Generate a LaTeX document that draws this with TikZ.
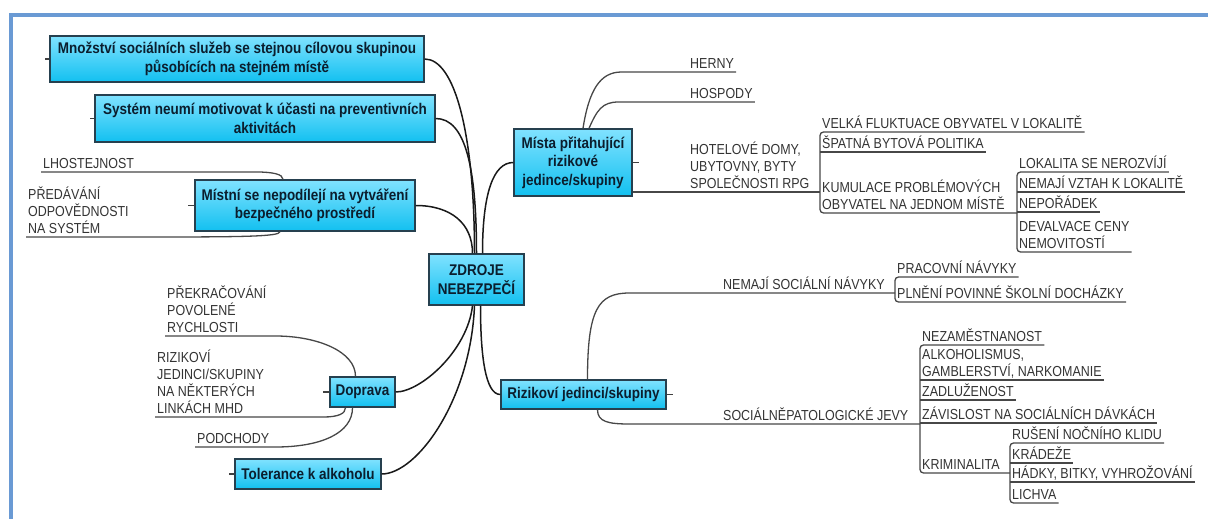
\documentclass[tikz,border=0pt]{standalone}
\usepackage{fontspec}
\setmainfont{Liberation Sans}
\newfontfamily\leaffont[FakeStretch=0.86]{Liberation Sans}
\newfontfamily\topicfont[FakeStretch=0.87]{Liberation Sans}
\definecolor{frameblue}{HTML}{6A9AD4}
\definecolor{topictop}{HTML}{80E2FF}
\definecolor{topicbot}{HTML}{12C0F0}
\definecolor{topicline}{HTML}{26404F}
\definecolor{topictext}{HTML}{0B1E2E}
\definecolor{leaftext}{HTML}{333333}
\begin{document}
\begin{tikzpicture}[
                        x=1pt, y=-1pt,
                        topic/.style={rectangle, draw=topicline, line width=1.4pt, top color=topictop, bottom color=topicbot,
                            text=topictext, font=\topicfont\bfseries\fontsize{15.5}{18.5}\selectfont, align=center, inner sep=0pt},
                        leaf/.style={anchor=south west, inner xsep=2pt, inner ysep=1pt, text depth=2.5pt, text=leaftext,
                            font=\leaffont\fontsize{14.5}{17}\selectfont, align=left},
                        branch/.style={draw=black!90, line width=1.5pt},
                        uline/.style={draw=black!72, line width=1.3pt, rounded corners=3.5pt},
                        stub/.style={draw=black!75, line width=1.3pt}
                    ]
                    \useasboundingbox (0,0) rectangle (1208,519);
                    \draw[frameblue, line width=3.5pt] (11,519) -- (11,15) -- (1208,15);

                    % Blocks
                    \node [topic, minimum width=95, minimum height=51] (zdroje) at (476.5,279.5) {ZDROJE\\NEBEZPEČÍ};
                    \node [topic, minimum width=374, minimum height=46] (mnozstvi) at (237,59) {Množství sociálních služeb se stejnou cílovou skupinou\\působících na stejném místě};
                    \node [topic, minimum width=340, minimum height=47] (system) at (265,118.5) {Systém neumí motivovat k účasti na preventivních\\aktivitách};
                    \node [topic, minimum width=220, minimum height=51] (mistni) at (305,205.5) {Místní se nepodílejí na vytváření\\bezpečného prostředí};
                    \node [topic, minimum width=118, minimum height=67] (misto) at (573,162.5) {Místa přitahující\\rizikové\\jedince/skupiny};
                    \node [topic, minimum width=165, minimum height=29] (riziko) at (583.5,394.5) {Rizikoví jedinci/skupiny};
                    \node [topic, minimum width=65, minimum height=30] (doprava) at (362.5,392) {Doprava};
                    \node [topic, minimum width=146, minimum height=30] (tolerance) at (308,474) {Tolerance k alkoholu};

                    % Leaves
                    \node [leaf] (lhost) at (41,172) {LHOSTEJNOST};
                    \node [leaf] (predav) at (26,237) {PŘEDÁVÁNÍ\\ODPOVĚDNOSTI\\NA SYSTÉM};
                    \node [leaf] (prekr) at (165,336) {PŘEKRAČOVÁNÍ\\POVOLENÉ\\RYCHLOSTI};
                    \node [leaf] (rizik) at (155,417) {RIZIKOVÍ\\JEDINCI/SKUPINY\\NA NĚKTERÝCH\\LINKÁCH MHD};
                    \node [leaf] (podch) at (195,447) {PODCHODY};

                    \node [leaf] (herny) at (688,72) {HERNY};
                    \node [leaf] (hospody) at (688,102) {HOSPODY};
                    \node [leaf] (hotel) at (688,192) {HOTELOVÉ DOMY,\\UBYTOVNY, BYTY\\SPOLEČNOSTI RPG};
                    \node [leaf] (velka) at (820,132) {VELKÁ FLUKTUACE OBYVATEL V LOKALITĚ};
                    \node [leaf] (spatna) at (820,152) {ŠPATNÁ BYTOVÁ POLITIKA};
                    \node [leaf] (kumul) at (820,213) {KUMULACE PROBLÉMOVÝCH\\OBYVATEL NA JEDNOM MÍSTĚ};
                    \node [leaf] (lokal) at (1017,172) {LOKALITA SE NEROZVÍJÍ};
                    \node [leaf] (vztah) at (1017,192) {NEMAJÍ VZTAH K LOKALITĚ};
                    \node [leaf] (neporadek) at (1017,212) {NEPOŘÁDEK};
                    \node [leaf] (devalv) at (1017,252) {DEVALVACE CENY\\NEMOVITOSTÍ};

                    \node [leaf] (navyky) at (721,293) {NEMAJÍ SOCIÁLNÍ NÁVYKY};
                    \node [leaf] (pracovni) at (895,277) {PRACOVNÍ NÁVYKY};
                    \node [leaf] (plneni) at (895,302) {PLNĚNÍ POVINNÉ ŠKOLNÍ DOCHÁZKY};
                    \node [leaf] (patol) at (721,424) {SOCIÁLNĚPATOLOGICKÉ JEVY};
                    \node [leaf] (nezam) at (920,345) {NEZAMĚSTNANOST};
                    \node [leaf] (alkohol) at (920,380) {ALKOHOLISMUS,\\GAMBLERSTVÍ, NARKOMANIE};
                    \node [leaf] (zadluz) at (920,400) {ZADLUŽENOST};
                    \node [leaf] (zavisl) at (920,423) {ZÁVISLOST NA SOCIÁLNÍCH DÁVKÁCH};
                    \node [leaf] (krimi) at (920,473) {KRIMINALITA};
                    \node [leaf] (ruseni) at (1010,443) {RUŠENÍ NOČNÍHO KLIDU};
                    \node [leaf] (kradeze) at (1010,463) {KRÁDEŽE};
                    \node [leaf] (hadky) at (1010,482) {HÁDKY, BITKY, VYHROŽOVÁNÍ};
                    \node [leaf] (lichva) at (1010,503) {LICHVA};

                    % Connections
                    \draw [branch] ([xshift=-2]zdroje.north) .. controls +(0,-120) and +(30,0) .. (mnozstvi.east);
                    \draw [branch] (zdroje.north) .. controls +(0,-85) and +(30,0) .. (system.east);
                    \draw [branch] ([xshift=-4]zdroje.north) .. controls +(0,-30) and +(35,0) .. (mistni.east);
                    \draw [branch] ([xshift=6]zdroje.north) .. controls +(0,-60) and +(-20,0) .. (misto.west);
                    \draw [branch] ([xshift=4]zdroje.south) .. controls +(0,50) and +(-15,0) .. (riziko.west);
                    \draw [branch] ([xshift=-4]zdroje.south) .. controls +(-5,45) and +(25,0) .. (doprava.east);
                    \draw [branch] ([xshift=-2]zdroje.south) .. controls +(-4,95) and +(35,0) .. (tolerance.east);

                    % small stubs
                    \draw [stub] (mnozstvi.west) -- ++(-4,0);
                    \draw [stub] (system.west) -- ++(-4,0);
                    \draw [stub] (mistni.west) -- ++(-6,0);
                    \draw [stub] (doprava.west) -- ++(-6,0);
                    \draw [stub] (tolerance.west) -- ++(-5,0);
                    \draw [stub] (misto.east) -- ++(6,0);
                    \draw [stub] (riziko.east) -- ++(6,0);

                    % Left leaves
                    \draw [uline] (lhost.south west) -- ++(212,0) .. controls +(20,0) and +(0,-5) .. ([xshift=-22]mistni.north);
                    \draw [uline] (predav.south west) -- ++(114,0) .. controls +(100,0) and +(0,5) .. ([xshift=-25]mistni.south);
                    \draw [uline] (prekr.south west) -- ++(107,0) .. controls +(45,0) and +(0,-25) .. ([xshift=-7]doprava.north);
                    \draw [uline] (rizik.south west) -- ++(165,0) .. controls +(18,0) and +(0,6) .. ([xshift=-17]doprava.south);
                    \draw [uline] (podch.south west) -- ++(77,0) .. controls +(50,0) and +(0,25) .. ([xshift=-10]doprava.south);

                    % Right leaves
                    \draw [uline] ([xshift=10]misto.north) .. controls +(6,-38) and +(-25,0) .. ([xshift=-63]herny.south west) -- (herny.south east);
                    \draw [uline] ([xshift=16]misto.north) .. controls +(8,-18) and +(-20,0) .. ([xshift=-66]hospody.south west) -- (hospody.south east);
                    \draw [uline] (misto.east |- hotel.south) -- (hotel.south -| velka.south west);
                    \draw [uline] (velka.south east) -- (velka.south west) -- (kumul.south west) -- (kumul.south west -| lokal.south west);
                    \draw [uline] (spatna.south west) -- (spatna.south east);
                    \draw [uline] (lokal.south east) -- (lokal.south west) -- (devalv.south west) -- (devalv.south east);
                    \draw [uline] (vztah.south west) -- (vztah.south east);
                    \draw [uline] (neporadek.south west) -- (neporadek.south east);

                    \draw [uline] ([xshift=4]riziko.north) .. controls +(0,-70) and +(-35,0) .. ([xshift=-88]navyky.south west) -- (navyky.south west -| pracovni.south west);
                    \draw [uline] (pracovni.south east) -- (pracovni.south west) -- (plneni.south west) -- (plneni.south east);
                    \draw [uline] ([xshift=14]riziko.south) .. controls +(0,12) and +(-25,0) .. ([xshift=-88]patol.south west) -- (patol.south west -| nezam.south west);
                    \draw [uline] (nezam.south east) -- (nezam.south west) -- (krimi.south west) -- (krimi.south west -| ruseni.south west);
                    \draw [uline] (alkohol.south west) -- (alkohol.south east);
                    \draw [uline] (zadluz.south west) -- (zadluz.south east);
                    \draw [uline] (zavisl.south west) -- (zavisl.south east);
                    \draw [uline] (ruseni.south east) -- (ruseni.south west) -- (lichva.south west) -- (lichva.south east);
                    \draw [uline] (kradeze.south west) -- (kradeze.south east);
                    \draw [uline] (hadky.south west) -- (hadky.south east);
                \end{tikzpicture}
\end{document}
